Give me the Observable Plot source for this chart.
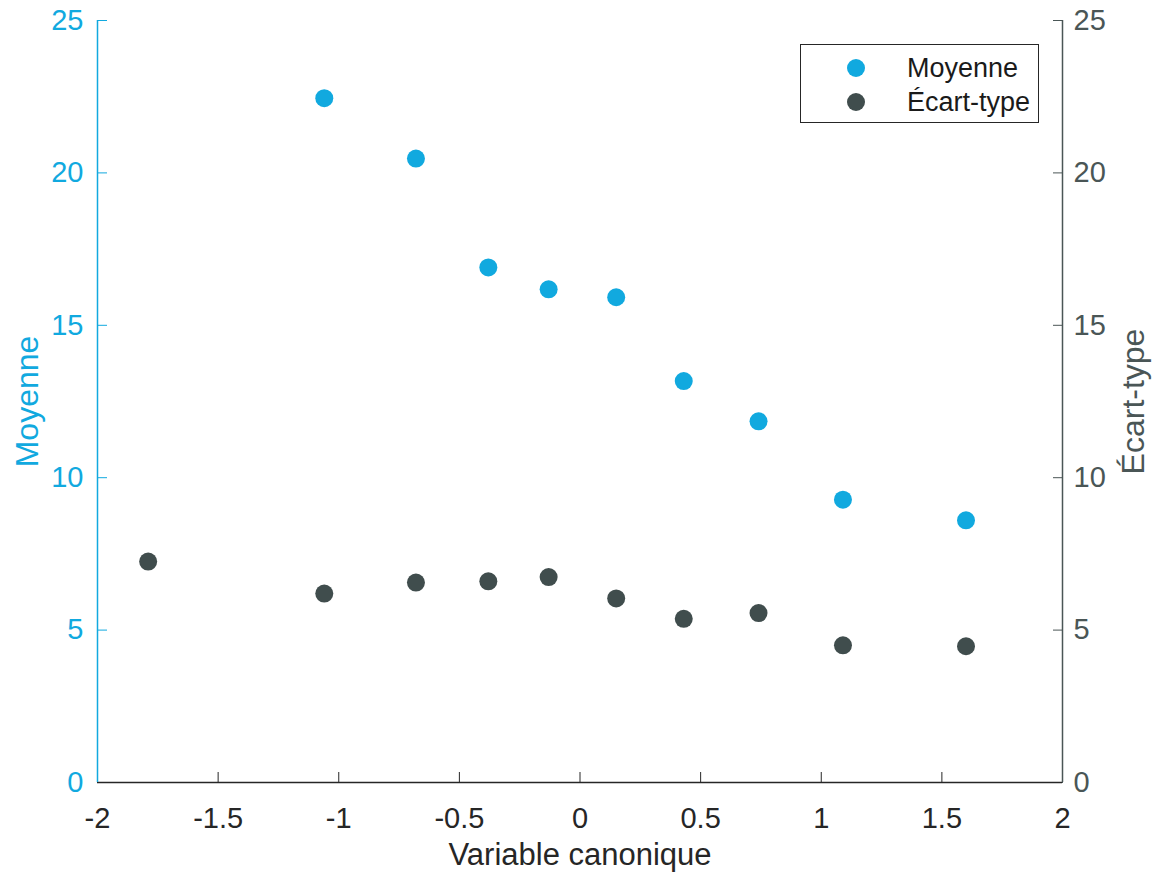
<!DOCTYPE html>
<html>
<head>
<meta charset="utf-8">
<script src="https://cdn.jsdelivr.net/npm/d3@7"></script>
<script src="https://cdn.jsdelivr.net/npm/@observablehq/plot@0.6"></script>
<style>
  body { margin: 0; background: #fff; }
  #wrap { position: relative; width: 1160px; height: 873px; font-family: "Liberation Sans", Arial, sans-serif; }
  #legend { position: absolute; left: 800px; top: 44px; width: 239px; height: 79px; border: 1px solid #262626; background: #fff; box-sizing: border-box; }
  .item { position: absolute; left: 0; height: 30px; display: flex; align-items: center; font-size: 27px; color: #1a1a1a; white-space: nowrap; }
  .dot { position: absolute; width: 18px; height: 18px; border-radius: 50%; }
</style>
</head>
<body>
<div id="wrap"></div>
<script>
const canon = [-1.79, -1.06, -0.68, -0.38, -0.13, 0.15, 0.43, 0.74, 1.09, 1.60];
const moyenne = [null, 22.45, 20.47, 16.9, 16.18, 15.92, 13.17, 11.85, 9.28, 8.6];
const ecartType = [7.25, 6.2, 6.56, 6.6, 6.74, 6.04, 5.37, 5.56, 4.5, 4.47];
const xTicks = [-2, -1.5, -1, -0.5, 0, 0.5, 1, 1.5, 2];
const yTicks = [0, 5, 10, 15, 20, 25];

const BLUE = "#11A9DF";
const GRAY = "#404D4D";
const RGRAY = "#4A5656";
const DARK = "#262626";

const meanData = canon.map((x, i) => ({x, y: moyenne[i]})).filter(d => d.y != null);
const sdData = canon.map((x, i) => ({x, y: ecartType[i]}));

const fmt = d => String(d);

const chart = Plot.plot({
  width: 1160,
  height: 873,
  marginLeft: 97,
  marginRight: 98,
  marginTop: 20,
  marginBottom: 91,
  style: {fontFamily: "'Liberation Sans', Arial, sans-serif", background: "white"},
  x: {domain: [-2, 2]},
  y: {domain: [0, 25]},
  marks: [
    Plot.axisX({ticks: xTicks, tickFormat: fmt, tickSize: -10, tickPadding: 35, fontSize: 29, color: DARK, stroke: DARK, label: null}),
    Plot.axisY({anchor: "left", ticks: yTicks, tickFormat: fmt, tickSize: -10, tickPadding: 24, fontSize: 29, color: BLUE, stroke: BLUE, label: null}),
    Plot.axisY({anchor: "right", ticks: yTicks, tickFormat: fmt, tickSize: -10, tickPadding: 21, fontSize: 29, color: RGRAY, stroke: RGRAY, label: null}),
    Plot.ruleY([0], {stroke: DARK, strokeWidth: 1.5}),
    Plot.ruleX([2], {stroke: RGRAY, strokeWidth: 1.5}),
    Plot.ruleX([-2], {stroke: BLUE, strokeWidth: 1.5}),
    Plot.text(["Variable canonique"], {frameAnchor: "bottom", textAnchor: "middle", lineAnchor: "middle", dy: 73, fontSize: 31, fill: DARK}),
    Plot.text(["Moyenne"], {frameAnchor: "left", textAnchor: "middle", lineAnchor: "middle", dx: -70, rotate: -90, fontSize: 32, fill: BLUE}),
    Plot.text(["Écart-type"], {frameAnchor: "right", textAnchor: "middle", lineAnchor: "middle", dx: 71, rotate: -90, fontSize: 32, fill: RGRAY}),
    Plot.dot(meanData, {x: "x", y: "y", r: 9, fill: BLUE, stroke: "none"}),
    Plot.dot(sdData, {x: "x", y: "y", r: 9, fill: GRAY, stroke: "none"})
  ]
});

const wrap = document.getElementById("wrap");
wrap.appendChild(chart);

const legend = document.createElement("div");
legend.id = "legend";
legend.innerHTML = `
  <div class="dot" style="left:46px; top:14px; background:${BLUE}"></div>
  <div class="item" style="left:106px; top:8px;">Moyenne</div>
  <div class="dot" style="left:46px; top:48px; background:${GRAY}"></div>
  <div class="item" style="left:106px; top:42px;">Écart-type</div>`;
wrap.appendChild(legend);
</script>
</body>
</html>
